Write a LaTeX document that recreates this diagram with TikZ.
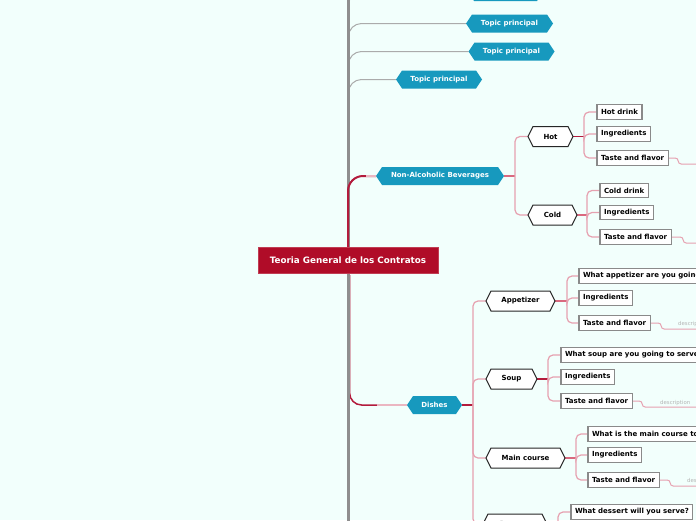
\documentclass[tikz,border=0pt]{standalone}
\usepackage{fontspec}
\setmainfont{DejaVu Sans}
\definecolor{bgc}{HTML}{F2FFFC}
\definecolor{spinegray}{HTML}{8E8E8E}
\definecolor{topicgray}{HTML}{ABABAB}
\definecolor{topicblue}{HTML}{1799BE}
\definecolor{rootred}{HTML}{B00C28}
\definecolor{darkred}{HTML}{B31B3C}
\definecolor{midpink}{HTML}{D9697F}
\definecolor{lightpink}{HTML}{E6A1B0}
\definecolor{paleline}{HTML}{EBB6C1}
\definecolor{leafgray}{HTML}{8A8A8A}
\definecolor{descgray}{HTML}{B4B4B4}
\pgfdeclarelayer{conn}
\pgfdeclarelayer{hexl}
\pgfsetlayers{conn,hexl,main}
\newcommand\myhex[3]{\path[#3] (#1.west) -- ([xshift=#2pt]#1.north west) -- ([xshift=-#2pt]#1.north east) -- (#1.east) -- ([xshift=-#2pt]#1.south east) -- ([xshift=#2pt]#1.south west) -- cycle;}
\begin{document}
\begin{tikzpicture}[x=1pt,y=-1pt,
 bfs/.style={font=\bfseries\fontsize{7}{8}\selectfont},
 blue hex/.style={bfs, text=white, minimum height=18pt, inner sep=0pt, outer sep=0pt},
 white hex/.style={bfs, text=black, minimum height=20pt, inner sep=0pt, outer sep=0pt},
 bluefill/.style={fill=topicblue},
 whitefill/.style={fill=white, draw=black!85, line width=1pt},
 leaf/.style={bfs, draw=leafgray, line width=1.1pt, fill=white, text=black, anchor=west, inner xsep=4pt, inner ysep=0pt, minimum height=14.5pt, outer sep=0pt},
 rootbox/.style={font=\bfseries\fontsize{8.8}{10}\selectfont, text=white, fill=rootred, draw=rootred!80!white, line width=0.8pt, minimum width=180pt, minimum height=26pt, inner sep=0pt, outer sep=0pt},
 desc/.style={font=\fontsize{5.4}{6}\selectfont, text=descgray, anchor=base west, inner sep=0pt},
 topicline/.style={draw=topicgray, line width=1pt, rounded corners=13pt},
 stubdark/.style={draw=darkred, line width=1.3pt},
 stubmid/.style={draw=midpink, line width=2pt},
 branch/.style={draw=lightpink, line width=1.2pt, rounded corners=5pt},
 descline/.style={draw=lightpink, line width=1pt, rounded corners=3pt},
]
\useasboundingbox (0,0) rectangle (696,520);
% ---------- nodes ----------
\node[blue hex, minimum width=75pt] (t1) at (505.5,-8) {Topic principal};
\node[blue hex, minimum width=87pt] (t2) at (509.5,23.5) {Topic principal};
\node[blue hex, minimum width=86pt] (t3) at (511.5,51.5) {Topic principal};
\node[blue hex, minimum width=86pt] (t4) at (439,79.5) {Topic principal};
\node[blue hex, minimum width=128pt] (nab) at (440,176) {Non-Alcoholic Beverages};
\node[rootbox] (root) at (348,260) {Teoria General de los Contratos};
\node[blue hex, minimum width=55pt] (dishes) at (434.5,405) {Dishes};

\node[white hex, minimum width=45pt] (hot) at (550.5,136.5) {Hot};
\node[white hex, minimum width=49pt] (cold) at (552.5,215) {Cold};
\node[white hex, minimum width=69pt] (app) at (520.5,301) {Appetizer};
\node[white hex, minimum width=51pt] (soup) at (511.5,379) {Soup};
\node[white hex, minimum width=79pt] (main) at (525.5,458) {Main course};
\node[white hex, minimum width=64pt] (dessert) at (515,524) {Dessert};

\node[leaf] (hotdrink) at (597,112) {Hot drink};
\node[leaf] (hoting) at (597,134) {Ingredients};
\node[leaf] (hottaste) at (597,158) {Taste and flavor};
\node[leaf] (colddrink) at (600,190.5) {Cold drink};
\node[leaf] (colding) at (600,212.5) {Ingredients};
\node[leaf] (coldtaste) at (600,237) {Taste and flavor};
\node[leaf] (appq) at (579,276) {What appetizer are you going to serve?};
\node[leaf] (apping) at (579,298) {Ingredients};
\node[leaf] (apptaste) at (579,323) {Taste and flavor};
\node[leaf] (soupq) at (561,355) {What soup are you going to serve?};
\node[leaf] (souping) at (561,377) {Ingredients};
\node[leaf] (souptaste) at (561,401) {Taste and flavor};
\node[leaf] (mainq) at (588,434) {What is the main course to serve?};
\node[leaf] (maining) at (588,455) {Ingredients};
\node[leaf] (maintaste) at (588,480) {Taste and flavor};
\node[leaf] (dessq) at (571,512) {What dessert will you serve?};

\node[desc] (appdesc) at (678,325.5) {description};
\node[desc] (soupdesc) at (660,404) {description};
\node[desc] (maindesc) at (687,482.5) {description};

% ---------- coordinates ----------
\coordinate (sptop) at (348.5,-10);
\coordinate (spbot) at (348.5,530);
\coordinate (s1) at (348.5,12);
\coordinate (s2) at (348.5,45);
\coordinate (s3) at (348.5,75);
\coordinate (s4) at (348.5,100);
\coordinate (djoin) at (349.6,275);
\coordinate (nj) at (515,176);
\coordinate (hj) at (584,136.5);
\coordinate (cj) at (587,215);
\coordinate (dj) at (473,405);
\coordinate (aj) at (567,301);
\coordinate (sj) at (548,379);
\coordinate (mj) at (576,458);
\coordinate (dsj) at (558,524);
\coordinate (hotend) at (720,164);
\coordinate (coldend) at (720,243);
\coordinate (append) at (720,329);
\coordinate (soupend) at (720,407);
\coordinate (mainend) at (720,486);

% ---------- hexagon shapes ----------
\begin{pgfonlayer}{hexl}
\myhex{t1}{6}{bluefill}
\myhex{t2}{6}{bluefill}
\myhex{t3}{6}{bluefill}
\myhex{t4}{6}{bluefill}
\myhex{nab}{6}{bluefill}
\myhex{dishes}{6}{bluefill}
\myhex{hot}{5}{whitefill}
\myhex{cold}{5}{whitefill}
\myhex{app}{5}{whitefill}
\myhex{soup}{5}{whitefill}
\myhex{main}{5}{whitefill}
\myhex{dessert}{5}{whitefill}
\end{pgfonlayer}

% ---------- connectors ----------
\begin{pgfonlayer}{conn}
\fill[bgc] (0,0) rectangle (696,520);
\draw[topicline] (t1.west) -| (s1);
\draw[topicline] (t2.west) -| (s2);
\draw[topicline] (t3.west) -| (s3);
\draw[topicline] (t4.west) -| (s4);
\draw[draw=darkred, line width=1.5pt, rounded corners=12pt] (dishes.west) -| (djoin);
\draw[draw=paleline, line width=1.5pt] (dishes.west) -- ++(-30,0);
\draw[draw=spinegray, line width=3pt] (sptop) -- (spbot);
\draw[draw=darkred, line width=2pt, rounded corners=15pt] (nab.west) -| (root.north);
\draw[draw=paleline, line width=2pt] (nab.west) -- ++(-10,0);

\draw[stubmid] (nab.east) -- (nj);
\draw[branch] (nj) |- (hot.west);
\draw[branch] (nj) |- (cold.west);

\draw[stubdark] (hot.east) -- (hj);
\foreach \c in {hotdrink,hoting,hottaste} \draw[branch] (hj) |- (\c.west);
\draw[stubmid] (cold.east) -- (cj);
\foreach \c in {colddrink,colding,coldtaste} \draw[branch] (cj) |- (\c.west);

\draw[stubdark] (dishes.east) -- (dj);
\foreach \c in {app,soup,main,dessert} \draw[branch] (dj) |- (\c.west);

\draw[stubmid] (app.east) -- (aj);
\foreach \c in {appq,apping,apptaste} \draw[branch] (aj) |- (\c.west);
\draw[stubdark] (soup.east) -- (sj);
\foreach \c in {soupq,souping,souptaste} \draw[branch] (sj) |- (\c.west);
\draw[stubmid] (main.east) -- (mj);
\foreach \c in {mainq,maining,maintaste} \draw[branch] (mj) |- (\c.west);
\draw[stubmid] (dessert.east) -- (dsj);
\draw[branch] (dsj) |- (dessq.west);

\draw[descline] (hottaste.east) -- ++(10,0) |- (hotend);
\draw[descline] (coldtaste.east) -- ++(12,0) |- (coldend);
\draw[descline] (apptaste.east) -- ++(11,0) |- (append);
\draw[descline] (souptaste.east) -- ++(10,0) |- (soupend);
\draw[descline] (maintaste.east) -- ++(11,0) |- (mainend);
\end{pgfonlayer}
\end{tikzpicture}
\end{document}
